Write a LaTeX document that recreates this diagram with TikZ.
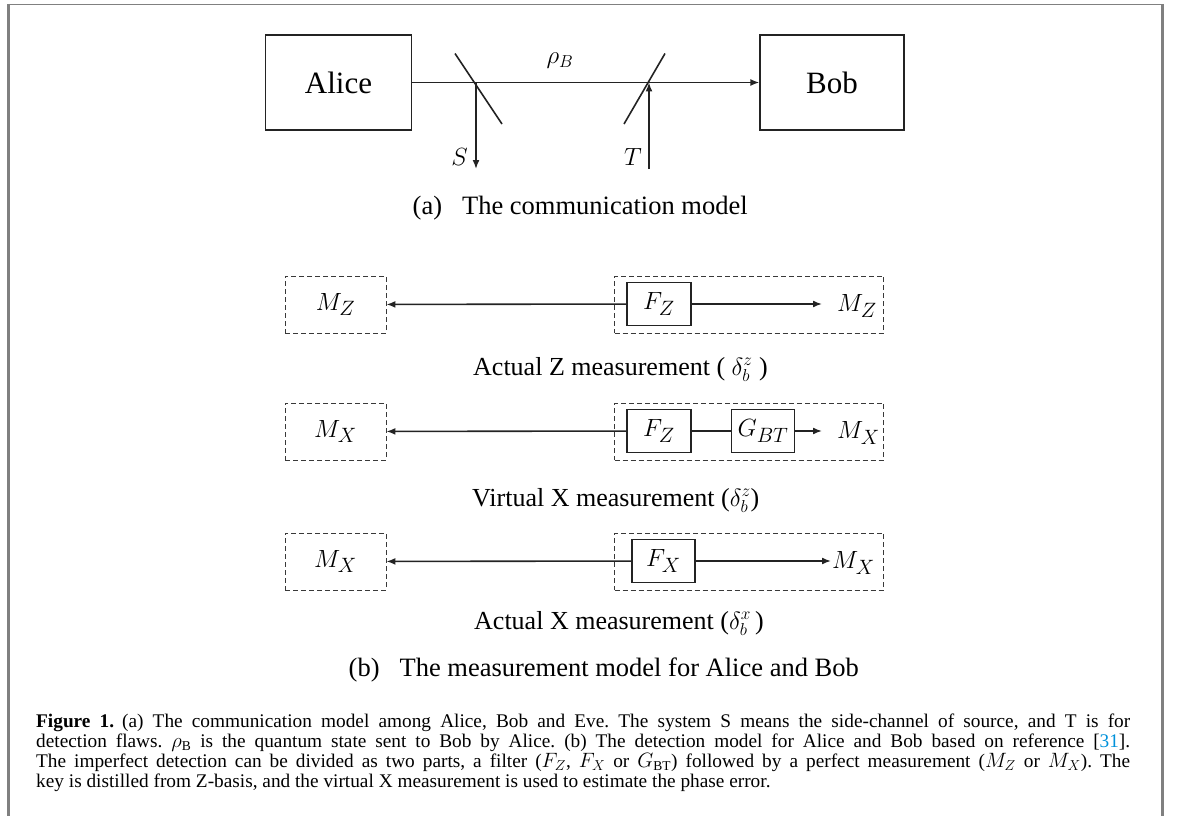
\documentclass[tikz,border=0pt]{standalone}
\usepackage{fontspec}
\setmainfont{Liberation Serif}
\usepackage{xcolor}
\usepackage{amsmath}
\usepackage{tikz}
\usetikzlibrary{arrows.meta,positioning,calc}
\definecolor{framegray}{RGB}{128,128,128}
\definecolor{refblue}{RGB}{0,145,218}
\definecolor{inkgray}{RGB}{35,35,35}
\tikzset{
  party/.style ={rectangle, draw=inkgray, line width=1.3pt, minimum width=146pt,
                 minimum height=95pt, font=\fontsize{31}{36}\selectfont},
  filt/.style  ={rectangle, draw=inkgray, line width=1.3pt, minimum width=64pt,
                 minimum height=43pt, inner sep=0pt, font=\fontsize{28}{34}\selectfont},
  dbox/.style  ={rectangle, draw=inkgray!90, dash pattern=on 5pt off 3pt, line width=0.9pt,
                 minimum width=101pt, minimum height=57pt, inner sep=0pt,
                 font=\fontsize{28}{34}\selectfont},
  meas/.style  ={inner sep=0pt, font=\fontsize{28}{34}\selectfont},
  sig/.style   ={-{Latex[length=9pt,width=7pt]}, line width=1.6pt, draw=inkgray},
  wire/.style  ={line width=1.6pt, draw=inkgray},
  mirror/.style={line width=1.6pt, draw=inkgray},
  sublbl/.style={font=\fontsize{26}{30}\selectfont, inner sep=0pt, anchor=base west},
  partlbl/.style={font=\fontsize{26.5}{32}\selectfont, inner sep=0pt, anchor=base west},
  chan/.style  ={font=\fontsize{24}{28}\selectfont, inner sep=0pt},
  capt/.style  ={font=\fontsize{19.3}{20}\selectfont, text width=1094pt,
                 align=justify, inner sep=0pt, anchor=base west}
}
\begin{document}
\begin{tikzpicture}[x=1pt,y=-1pt]
  \useasboundingbox (0,0) rectangle (1181,816);
  % frame
  \draw[framegray, line width=1.2pt] (8.5,4.5) -- (1162,4.5);
  \draw[framegray, line width=3pt] (8.5,4) -- (8.5,816);
  \draw[framegray, line width=3pt] (1162,4) -- (1162,816);

  % (a) communication model
  \node[party] (alice) at (338.5,82.5) {Alice};
  \node[party, minimum width=144pt] (bob) at (832,82.5) {Bob};
  \coordinate (m1) at (476,82.5);
  \coordinate (m2) at (649,82.5);
  \coordinate (sout) at (476,169);
  \coordinate (tin) at (649,169);
  \draw[sig] (alice) -- (bob);
  \draw[mirror] ($(m1)+(-21,-29)$) -- ($(m1)+(26,41.5)$);
  \draw[mirror] ($(m2)+(-25,41.5)$) -- ($(m2)+(16,-29)$);
  \draw[sig] (m1) -- (sout);
  \draw[sig] (tin) -- (m2);
  \node[chan] (rho) at (560,61) {$\rho_B$};
  \node[chan] (slbl) at (459.5,157) {$S$};
  \node[chan] (tlbl) at (633,157) {$T$};
  \node[partlbl] (capa) at (412.5,214) {(a)\hspace{20pt}The communication model};

  % (b) measurement model
  % row 1
  \node[dbox] (mzl1) at (335.5,304.5) {$M_Z$};
  \node[dbox, minimum width=269pt] (grp1) at (749,304.5) {};
  \node[filt] (fz1) at (659,304) {$F_Z$};
  \node[meas, anchor=west] (mzr1) at (837,306) {$M_Z$};
  \coordinate (tip1) at (822,304);
  \draw[sig] (fz1) -- (mzl1);
  \draw[sig] (fz1) -- (tip1);
  \node[sublbl] (lbl1) at (473,375) {Actual Z measurement ( $\delta_b^z$ )};
  % row 2
  \node[dbox] (mxl2) at (335.5,431.5) {$M_X$};
  \node[dbox, minimum width=269pt] (grp2) at (749,431.5) {};
  \node[filt] (fz2) at (659,431) {$F_Z$};
  \node[filt, minimum width=63pt] (gbt2) at (763,431) {$G_{BT}$};
  \node[meas, anchor=west] (mxr2) at (837,433) {$M_X$};
  \coordinate (tip2) at (822,431);
  \draw[sig] (fz2) -- (mxl2);
  \draw[wire] (fz2) -- (gbt2);
  \draw[sig] (gbt2) -- (tip2);
  \node[sublbl] (lbl2) at (472,506) {Virtual X measurement ($\delta_b^z$)};
  % row 3
  \node[dbox] (mxl3) at (335.5,561.5) {$M_X$};
  \node[dbox, minimum width=269pt] (grp3) at (749,561.5) {};
  \node[filt, minimum width=63pt] (fx3) at (663.5,561) {$F_X$};
  \node[meas, anchor=west] (mxr3) at (832,563) {$M_X$};
  \coordinate (tip3) at (831,561);
  \draw[sig] (fx3) -- (mxl3);
  \draw[sig] (fx3) -- (tip3);
  \node[sublbl] (lbl3) at (474,629) {Actual X measurement ($\delta_b^x$\,)};
  \node[partlbl] (capb) at (348.5,676) {(b)\hspace{20pt}The measurement model for Alice and Bob};

  % figure caption
  \node[capt] (cap) at (36,727) {\frenchspacing\textbf{Figure 1.}\hspace{8pt}(a) The communication model among Alice, Bob and Eve. The system S means the side-channel of source, and T is for\linebreak
  detection flaws. $\rho_{\mathrm{B}}$ is the quantum state sent to Bob by Alice. (b) The detection model for Alice and Bob based on reference [\textcolor{refblue}{31}].\linebreak
  The imperfect detection can be divided as two parts, a filter ($F_Z$, $F_X$ or $G_{\mathrm{BT}}$) followed by a perfect measurement ($M_Z$ or $M_X$). The\linebreak
  key is distilled from Z-basis, and the virtual X measurement is used to estimate the phase error.\par};
\end{tikzpicture}
\end{document}
